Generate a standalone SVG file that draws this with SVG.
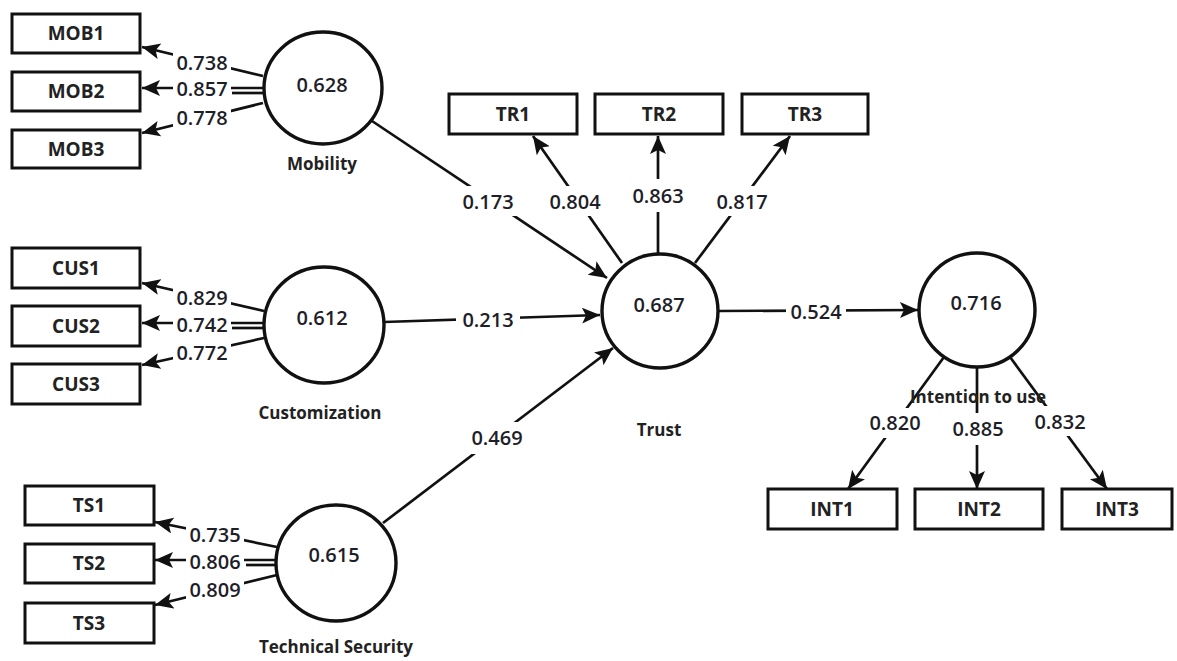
<svg xmlns="http://www.w3.org/2000/svg" width="1177" height="661" viewBox="0 0 1177 661">
<style>
.box{fill:#fff;stroke:#111;stroke-width:3}
.lv{fill:#fff;stroke:#111;stroke-width:3.4}
.ln{stroke:#111;stroke-width:2.7;fill:none}
.bg{fill:#fff}
.bt{font-family:"Open Sans","DejaVu Sans",sans-serif;font-weight:700;font-size:19px;fill:#222;text-anchor:middle}
.nt{font-family:"Open Sans","DejaVu Sans",sans-serif;font-weight:600;font-size:20px;fill:#1e1e28;text-anchor:middle}
.lt{font-family:"Open Sans","DejaVu Sans",sans-serif;font-weight:700;font-size:17px;fill:#222;text-anchor:middle}
</style>
<defs>
<marker id="ah" markerUnits="userSpaceOnUse" markerWidth="19" markerHeight="17" refX="18" refY="8" orient="auto" viewBox="0 0 19 17">
<path d="M0,0 L18,8 L0,16 L4,8 z" fill="#111"/>
</marker>
</defs>
<rect width="1177" height="661" fill="#fff"/>

<g id="connectors">
<line class="ln" x1="263" y1="76" x2="142" y2="47" marker-end="url(#ah)"/>
<line class="ln" x1="264" y1="88" x2="142" y2="88" marker-end="url(#ah)"/>
<line class="ln" x1="232" y1="93" x2="264" y2="93"/>
<line class="ln" x1="263" y1="103" x2="142" y2="133" marker-end="url(#ah)"/>

<line class="ln" x1="264" y1="311" x2="142" y2="283" marker-end="url(#ah)"/>
<line class="ln" x1="264" y1="323" x2="142" y2="323" marker-end="url(#ah)"/>
<line class="ln" x1="232" y1="328" x2="264" y2="328"/>
<line class="ln" x1="264" y1="338" x2="142" y2="365" marker-end="url(#ah)"/>

<line class="ln" x1="277" y1="547" x2="155" y2="522" marker-end="url(#ah)"/>
<line class="ln" x1="277" y1="560" x2="155" y2="560" marker-end="url(#ah)"/>
<line class="ln" x1="246" y1="565" x2="277" y2="565"/>
<line class="ln" x1="277" y1="575" x2="155" y2="605" marker-end="url(#ah)"/>

<line class="ln" x1="372" y1="121" x2="607" y2="278" marker-end="url(#ah)"/>
<line class="ln" x1="384" y1="322" x2="600" y2="315" marker-end="url(#ah)"/>
<line class="ln" x1="383" y1="523" x2="613" y2="348" marker-end="url(#ah)"/>

<line class="ln" x1="622" y1="263" x2="533" y2="136" marker-end="url(#ah)"/>
<line class="ln" x1="658" y1="254" x2="658" y2="136" marker-end="url(#ah)"/>
<line class="ln" x1="695" y1="263" x2="790" y2="136" marker-end="url(#ah)"/>

<line class="ln" x1="718" y1="311" x2="918" y2="310" marker-end="url(#ah)"/>

<line class="ln" x1="944" y1="357" x2="848" y2="489" marker-end="url(#ah)"/>
<line class="ln" x1="977" y1="367" x2="977" y2="489" marker-end="url(#ah)"/>
<line class="ln" x1="1010" y1="357" x2="1107" y2="489" marker-end="url(#ah)"/>

<rect class="bg" x="173" y="53" width="58" height="20"/>
<rect class="bg" x="173" y="79" width="58" height="20"/>
<rect class="bg" x="173" y="108" width="58" height="20"/>
<rect class="bg" x="173" y="288" width="58" height="20"/>
<rect class="bg" x="173" y="315" width="58" height="20"/>
<rect class="bg" x="173" y="343" width="58" height="20"/>
<rect class="bg" x="186" y="525" width="58" height="20"/>
<rect class="bg" x="186" y="552" width="58" height="20"/>
<rect class="bg" x="186" y="580" width="58" height="20"/>
<rect class="bg" x="456" y="186" width="64" height="30"/>
<rect class="bg" x="456" y="308" width="64" height="24"/>
<rect class="bg" x="465" y="422" width="64" height="32"/>
<rect class="bg" x="543" y="186" width="64" height="30"/>
<rect class="bg" x="626" y="179" width="64" height="33"/>
<rect class="bg" x="710" y="186" width="64" height="30"/>
<rect class="bg" x="786" y="300" width="60" height="24"/>
<rect class="bg" x="863" y="408" width="64" height="30"/>
<rect class="bg" x="946" y="413" width="64" height="32"/>
<rect class="bg" x="1028" y="406" width="64" height="30"/>

<text class="nt" x="202" y="70">0.738</text>
<text class="nt" x="202" y="96">0.857</text>
<text class="nt" x="202" y="125">0.778</text>
<text class="nt" x="202" y="305">0.829</text>
<text class="nt" x="202" y="332">0.742</text>
<text class="nt" x="202" y="360">0.772</text>
<text class="nt" x="215" y="542">0.735</text>
<text class="nt" x="215" y="569">0.806</text>
<text class="nt" x="215" y="597">0.809</text>
<text class="nt" x="488" y="209">0.173</text>
<text class="nt" x="488" y="327">0.213</text>
<text class="nt" x="497" y="445">0.469</text>
<text class="nt" x="575" y="209">0.804</text>
<text class="nt" x="658" y="203">0.863</text>
<text class="nt" x="742" y="209">0.817</text>
<text class="nt" x="816" y="319">0.524</text>
<text class="nt" x="895" y="430">0.820</text>
<text class="nt" x="978" y="436">0.885</text>
<text class="nt" x="1060" y="429">0.832</text>
</g>

<g id="MOB1"><rect class="box" x="12" y="14" width="128" height="39"/><text class="bt" x="76" y="40">MOB1</text></g>
<g id="MOB2"><rect class="box" x="12" y="72" width="128" height="39"/><text class="bt" x="76" y="98">MOB2</text></g>
<g id="MOB3"><rect class="box" x="12" y="130" width="128" height="38"/><text class="bt" x="76" y="156">MOB3</text></g>

<g id="CUS1"><rect class="box" x="12" y="248" width="128" height="40"/><text class="bt" x="76" y="275">CUS1</text></g>
<g id="CUS2"><rect class="box" x="12" y="306" width="128" height="40"/><text class="bt" x="76" y="333">CUS2</text></g>
<g id="CUS3"><rect class="box" x="12" y="364" width="128" height="40"/><text class="bt" x="76" y="391">CUS3</text></g>

<g id="TS1"><rect class="box" x="25" y="486" width="129" height="39"/><text class="bt" x="89" y="512">TS1</text></g>
<g id="TS2"><rect class="box" x="25" y="544" width="129" height="39"/><text class="bt" x="89" y="570">TS2</text></g>
<g id="TS3"><rect class="box" x="25" y="603" width="129" height="40"/><text class="bt" x="89" y="630">TS3</text></g>

<g id="TR1"><rect class="box" x="449" y="94" width="128" height="40"/><text class="bt" x="513" y="121">TR1</text></g>
<g id="TR2"><rect class="box" x="595" y="94" width="128" height="40"/><text class="bt" x="659" y="121">TR2</text></g>
<g id="TR3"><rect class="box" x="742" y="94" width="126" height="40"/><text class="bt" x="805" y="121">TR3</text></g>

<g id="INT1"><rect class="box" x="768" y="489" width="129" height="40"/><text class="bt" x="832" y="516">INT1</text></g>
<g id="INT2"><rect class="box" x="915" y="489" width="128" height="40"/><text class="bt" x="979" y="516">INT2</text></g>
<g id="INT3"><rect class="box" x="1062" y="489" width="110" height="40"/><text class="bt" x="1117" y="516">INT3</text></g>

<g id="Mobility"><ellipse class="lv" cx="323" cy="88" rx="59" ry="56"/><text class="nt" x="322" y="92">0.628</text><text class="lt" x="322" y="170">Mobility</text></g>
<g id="Customization"><ellipse class="lv" cx="324" cy="325" rx="60" ry="58"/><text class="nt" x="322" y="325">0.612</text><text class="lt" x="320" y="419">Customization</text></g>
<g id="TechnicalSecurity"><ellipse class="lv" cx="336" cy="563" rx="60" ry="58"/><text class="nt" x="334" y="562">0.615</text><text class="lt" x="336" y="653">Technical Security</text></g>
<g id="Trust"><ellipse class="lv" cx="660" cy="311" rx="58" ry="57"/><text class="nt" x="659" y="312">0.687</text><text class="lt" x="659" y="436">Trust</text></g>
<g id="Intention"><ellipse class="lv" cx="977" cy="310" rx="58" ry="57"/><text class="nt" x="976" y="310">0.716</text><text class="lt" x="978" y="403">Intention to use</text></g>
</svg>
